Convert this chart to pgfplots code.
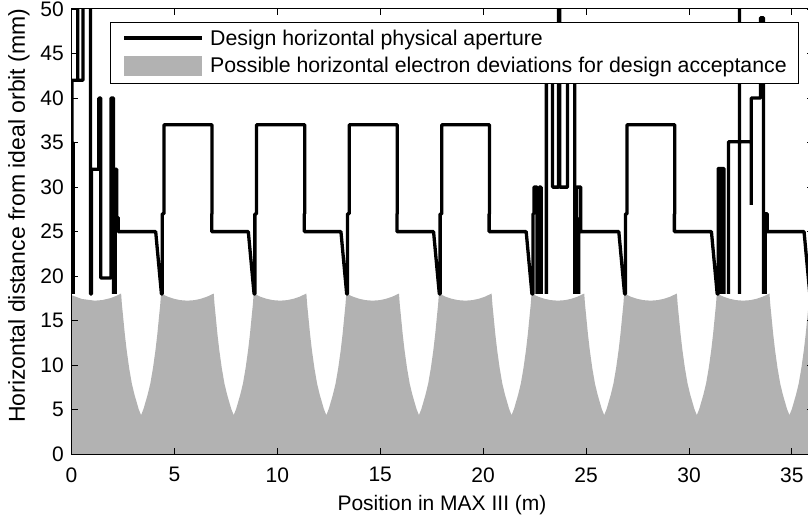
\documentclass[border=0pt]{standalone}
\usepackage{fontspec}
\setmainfont{Liberation Sans}
\usepackage{pgfplots}
\pgfplotsset{compat=1.18}
\definecolor{fillgray}{rgb}{0.7,0.7,0.7}
\begin{document}
\begin{tikzpicture}
\begin{axis}[
  at={(0pt,0pt)}, anchor=south west,
  scale only axis, width=741pt, height=445.3pt,
  xmin=0, xmax=36, ymin=0, ymax=50,
  xtick={0,5,...,35}, ytick={0,5,...,50},
  tick align=inside, major tick length=6pt,
  xtick pos=both, ytick pos=both,
  axis line style={line width=1pt}, major tick style={line width=0.9pt, black},
  axis on top,
  unbounded coords=jump,
  /pgf/number format/assume math mode=true,
  tick label style={font=\fontsize{21}{25}\selectfont},
  yticklabel style={inner sep=0pt}, xticklabel style={inner sep=0pt},
  xticklabel shift=13pt, yticklabel shift=7.5pt,
  xlabel={Position in MAX III (m)},
  ylabel={Horizontal distance from ideal orbit (mm)},
  xlabel style={font=\fontsize{21}{25}\selectfont, at={(axis description cs:0.5,-0.1251)}, anchor=base},
  ylabel style={font=\fontsize{23}{27}\selectfont, at={(axis description cs:-0.0628,0.536)}, anchor=base},
  legend cell align=left,
  legend style={at={(1,1)}, anchor=north east, xshift=-13.2pt, yshift=-13pt,
    draw=black, line width=1pt, fill=white, font=\fontsize{21.3}{25}\selectfont,
    inner xsep=12pt, inner ysep=7.5pt, row sep=9.3pt,
    nodes={inner sep=0pt}},
]
\addplot[fill=fillgray, draw=none, forget plot] coordinates {
(0,17.87) (0.5,17.44) (1.13,17.25) (1.5,17.32) (1.9,17.54) (2.2,17.81)
(2.41,18.05) (2.45,16.8) (2.51,15.4) (2.59,13.5) (2.68,11.7) (2.80,9.7) (2.93,7.95) (3.06,6.7) (3.16,5.9) (3.26,5.1) (3.38,4.4) (3.50,5.1) (3.60,5.9) (3.70,6.7) (3.83,7.95) (3.96,9.7) (4.08,11.7) (4.17,13.5) (4.25,15.4) (4.31,16.8) (4.35,18.05)
(4.68,17.69) (4.98,17.46) (5.28,17.31) (5.63,17.25) (5.98,17.31) (6.28,17.46) (6.58,17.69)
(6.91,18.05) (6.95,16.8) (7.01,15.4) (7.09,13.5) (7.18,11.7) (7.30,9.7) (7.43,7.95) (7.56,6.7) (7.66,5.9) (7.76,5.1) (7.88,4.4) (8.00,5.1) (8.10,5.9) (8.20,6.7) (8.33,7.95) (8.46,9.7) (8.58,11.7) (8.67,13.5) (8.75,15.4) (8.81,16.8) (8.85,18.05)
(9.18,17.69) (9.48,17.46) (9.78,17.31) (10.13,17.25) (10.48,17.31) (10.78,17.46) (11.08,17.69)
(11.41,18.05) (11.45,16.8) (11.51,15.4) (11.59,13.5) (11.68,11.7) (11.80,9.7) (11.93,7.95) (12.06,6.7) (12.16,5.9) (12.26,5.1) (12.38,4.4) (12.50,5.1) (12.60,5.9) (12.70,6.7) (12.83,7.95) (12.96,9.7) (13.08,11.7) (13.17,13.5) (13.25,15.4) (13.31,16.8) (13.35,18.05)
(13.68,17.69) (13.98,17.46) (14.28,17.31) (14.63,17.25) (14.98,17.31) (15.28,17.46) (15.58,17.69)
(15.91,18.05) (15.95,16.8) (16.01,15.4) (16.09,13.5) (16.18,11.7) (16.30,9.7) (16.43,7.95) (16.56,6.7) (16.66,5.9) (16.76,5.1) (16.88,4.4) (17.00,5.1) (17.10,5.9) (17.20,6.7) (17.33,7.95) (17.46,9.7) (17.58,11.7) (17.67,13.5) (17.75,15.4) (17.81,16.8) (17.85,18.05)
(18.18,17.69) (18.48,17.46) (18.78,17.31) (19.13,17.25) (19.48,17.31) (19.78,17.46) (20.08,17.69)
(20.41,18.05) (20.45,16.8) (20.51,15.4) (20.59,13.5) (20.68,11.7) (20.80,9.7) (20.93,7.95) (21.06,6.7) (21.16,5.9) (21.26,5.1) (21.38,4.4) (21.50,5.1) (21.60,5.9) (21.70,6.7) (21.83,7.95) (21.96,9.7) (22.08,11.7) (22.17,13.5) (22.25,15.4) (22.31,16.8) (22.35,18.05)
(22.68,17.69) (22.98,17.46) (23.28,17.31) (23.63,17.25) (23.98,17.31) (24.28,17.46) (24.58,17.69)
(24.91,18.05) (24.95,16.8) (25.01,15.4) (25.09,13.5) (25.18,11.7) (25.30,9.7) (25.43,7.95) (25.56,6.7) (25.66,5.9) (25.76,5.1) (25.88,4.4) (26.00,5.1) (26.10,5.9) (26.20,6.7) (26.33,7.95) (26.46,9.7) (26.58,11.7) (26.67,13.5) (26.75,15.4) (26.81,16.8) (26.85,18.05)
(27.18,17.69) (27.48,17.46) (27.78,17.31) (28.13,17.25) (28.48,17.31) (28.78,17.46) (29.08,17.69)
(29.41,18.05) (29.45,16.8) (29.51,15.4) (29.59,13.5) (29.68,11.7) (29.80,9.7) (29.93,7.95) (30.06,6.7) (30.16,5.9) (30.26,5.1) (30.38,4.4) (30.50,5.1) (30.60,5.9) (30.70,6.7) (30.83,7.95) (30.96,9.7) (31.08,11.7) (31.17,13.5) (31.25,15.4) (31.31,16.8) (31.35,18.05)
(31.68,17.69) (31.98,17.46) (32.28,17.31) (32.63,17.25) (32.98,17.31) (33.28,17.46) (33.58,17.69)
(33.91,18.05) (33.95,16.8) (34.01,15.4) (34.09,13.5) (34.18,11.7) (34.30,9.7) (34.43,7.95) (34.56,6.7) (34.66,5.9) (34.76,5.1) (34.88,4.4) (35.00,5.1) (35.10,5.9) (35.20,6.7) (35.33,7.95) (35.46,9.7) (35.58,11.7) (35.67,13.5) (35.75,15.4) (35.81,16.8) (35.85,18.05)
(36,17.87)
} \closedcycle;
\addplot[black, line width=3.3pt, line join=round, forget plot] coordinates {
(0.08,18) (0.08,35) (0.02,35) (0.02,42) (0.56,42) (0.56,55)
(0,nan)
(0.3,42) (0.3,55)
(0,nan)
(0.92,55) (0.92,18) (0.97,18) (0.97,32) (1.33,32) (1.33,40) (1.42,40) (1.42,19.8) (1.92,19.8) (1.92,40) (2.04,40) (2.04,18)
(0,nan)
(2.13,18) (2.13,32) (2.2,32) (2.2,26.6) (2.27,26.6) (2.27,25) (4.09,25) (4.37,18) (4.41,18) (4.41,27) (4.49,27) (4.49,37) (6.83,37) (6.83,27) (6.81,27) (6.81,25)
(8.59,25) (8.87,18) (8.91,18) (8.91,27) (8.99,27) (8.99,37) (11.33,37) (11.33,27) (11.31,27) (11.31,25)
(13.09,25) (13.37,18) (13.41,18) (13.41,27) (13.49,27) (13.49,37) (15.83,37) (15.83,27) (15.81,27) (15.81,25)
(17.59,25) (17.87,18) (17.91,18) (17.91,27) (17.99,27) (17.99,37) (20.31,37) (20.31,27) (20.29,27) (20.29,25)
(22.09,25) (22.37,18) (22.42,18) (22.42,27) (22.47,27) (22.47,30) (22.62,30) (22.62,18)
(0,nan)
(22.72,18) (22.72,30) (22.82,30) (22.82,18)
(0,nan)
(23.07,18) (23.07,45) (23.37,45) (23.37,30) (23.66,30) (23.66,55) (23.72,55) (23.72,30) (24.1,30) (24.1,45) (24.45,45) (24.45,18)
(0,nan)
(24.64,26.6) (24.64,18)
(0,nan)
(24.55,18) (24.55,30) (24.74,30) (24.74,25) (26.59,25) (26.87,18) (26.91,18) (26.91,27) (26.99,27) (26.99,37) (29.31,37) (29.31,27) (29.29,27) (29.29,25)
(31.09,25) (31.37,18) (31.42,18) (31.42,32.1) (31.70,32.1) (31.70,18)
(0,nan)
(31.56,18) (31.56,32.1)
(0,nan)
(31.92,18) (31.92,35.1) (32.98,35.1)
(0,nan)
(32.45,18) (32.45,55)
(0,nan)
(33.02,28) (33.02,40) (33.47,40) (33.47,49) (33.62,49) (33.62,18)
(0,nan)
(33.7,18) (33.7,27) (33.8,27) (33.8,25) (35.59,25) (35.87,18) (35.91,18) (35.91,27) (36.1,27)
};
\addlegendimage{legend image code/.code={\draw[black, line width=4pt] (0pt,0pt) -- (78pt,0pt); \path[draw=none, fill=none] (0pt,0pt) rectangle (86pt,0.1pt);}}
\addlegendentry{Design horizontal physical aperture}
\addlegendimage{legend image code/.code={\fill[fillgray, draw=none] (0pt,-9.7pt) rectangle (78pt,9.7pt); \path[draw=none, fill=none] (0pt,0pt) rectangle (86pt,0.1pt);}}
\addlegendentry{Possible horizontal electron deviations for design acceptance}
\end{axis}
\pgfresetboundingbox
\useasboundingbox (-71.5pt,-66.7pt) rectangle (736.5pt,454.3pt);
\end{tikzpicture}
\end{document}
